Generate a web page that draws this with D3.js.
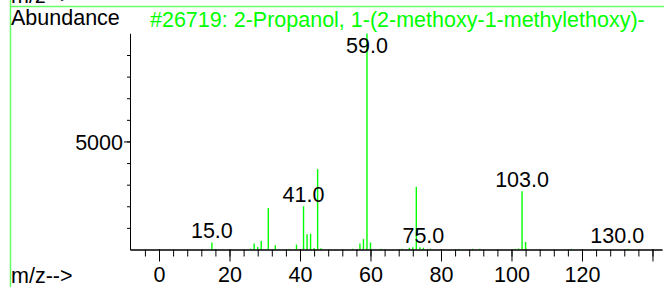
<!DOCTYPE html>
<html>
<head>
<meta charset="utf-8">
<script src="https://d3js.org/d3.v7.min.js"></script>
<style>
  body { margin: 0; background: #fff; }
  svg { display: block; font-family: "Liberation Sans", Arial, sans-serif; }
</style>
</head>
<body>
<script>
// m/z values and abundances
var mz        = [15, 16, 18, 26, 27, 28, 29, 31, 33, 37, 39, 41, 42, 43, 44, 45, 46,
                 55, 57, 58, 59, 60, 63, 69, 71, 72, 73, 74, 75, 77, 85, 89, 91,
                 101, 102, 103, 104, 117, 130, 133];
var abundance = [325, 25, 20, 40, 280, 110, 400, 1920, 200, 30, 230, 2000, 700, 730, 60, 3720, 60,
                 30, 280, 480, 9999, 320, 30, 30, 80, 100, 2900, 100, 80, 40, 30, 30, 40,
                 30, 50, 2690, 350, 30, 10, 40];
var peakLabels = [15, 41, 59, 75, 103, 130];
var xTickLabels = [0, 20, 40, 60, 80, 100, 120];
var yTickLabels = [5000];
var title = "#26719: 2-Propanol, 1-(2-methoxy-1-methylethoxy)-";

var width = 664, height = 287;
var green = "#00ff00";
var fs = 21.5;

var svg = d3.select("body").append("svg")
  .attr("width", width)
  .attr("height", height);

var x = d3.scaleLinear().domain([-8.23, 142.7]).range([130, 662]);
var y = d3.scaleLinear().domain([0, 10000]).range([249.5, 33.4]);

// frame lines
svg.append("line").attr("x1", 10).attr("x2", width).attr("y1", 6.5).attr("y2", 6.5)
  .attr("stroke", "#6f6").attr("stroke-width", 1.5);
svg.append("line").attr("x1", 10.5).attr("x2", 10.5).attr("y1", 0).attr("y2", height)
  .attr("stroke", "#6f6").attr("stroke-width", 1.5);

svg.append("text").attr("x", 11).attr("y", 3).attr("font-size", fs).text("m/z-->");
svg.append("text").attr("x", 11).attr("y", 25).attr("font-size", fs).text("Abundance");
svg.append("text").attr("x", 150).attr("y", 27).attr("font-size", fs)
  .attr("fill", green).text(title);
svg.append("text").attr("x", 11).attr("y", 283).attr("font-size", fs).text("m/z-->");

// bars
svg.append("g").selectAll("line")
  .data(mz)
  .enter()
  .append("line")
  .attr("x1", function(d) { return x(d); })
  .attr("x2", function(d) { return x(d); })
  .attr("y1", y(0))
  .attr("y2", function(d, i) { return y(abundance[i]); })
  .attr("stroke", green)
  .attr("stroke-width", 1.4);

// x axis
var minorX = d3.range(-4, 141, 4);
var gxMinor = svg.append("g").attr("transform", "translate(0," + y(0) + ")")
  .call(d3.axisBottom(x).tickValues(minorX).tickSize(7).tickSizeOuter(0).tickFormat(""));
var gxMajor = svg.append("g").attr("transform", "translate(0," + y(0) + ")")
  .call(d3.axisBottom(x).tickValues(xTickLabels.concat([140])).tickSize(12).tickSizeOuter(0)
    .tickFormat(function(d) { return d <= 120 ? d : ""; }));
gxMajor.selectAll("text").attr("y", 32).attr("dy", 0)
  .attr("font-size", fs).attr("font-family", "Liberation Sans, Arial, sans-serif").attr("fill", "#000");

// y axis
var gyMinor = svg.append("g").attr("transform", "translate(" + x(-8.23) + ",0)")
  .call(d3.axisLeft(y).tickValues(d3.range(1000, 9001, 1000)).tickSize(3).tickSizeOuter(0).tickFormat(""));
var gyMajor = svg.append("g").attr("transform", "translate(" + x(-8.23) + ",0)")
  .call(d3.axisLeft(y).tickValues(yTickLabels).tickSize(6).tickPadding(1).tickSizeOuter(0)
    .tickFormat(d3.format("d")));
gyMajor.selectAll("text").attr("font-size", fs)
  .attr("font-family", "Liberation Sans, Arial, sans-serif").attr("fill", "#000").attr("dy", "0.36em");

svg.selectAll(".domain").attr("stroke", "#000");
svg.selectAll(".tick line").attr("stroke", "#000");

// peak labels
svg.append("g").selectAll("text")
  .data(peakLabels)
  .enter()
  .append("text")
  .attr("x", function(d) { return x(d); })
  .attr("y", function(d) {
    var v = abundance[mz.indexOf(d)];
    return Math.max(53, Math.min(243, y(v) - 4));
  })
  .attr("text-anchor", "middle")
  .attr("font-size", fs)
  .text(function(d) { return d.toFixed(1); });
</script>
</body>
</html>
